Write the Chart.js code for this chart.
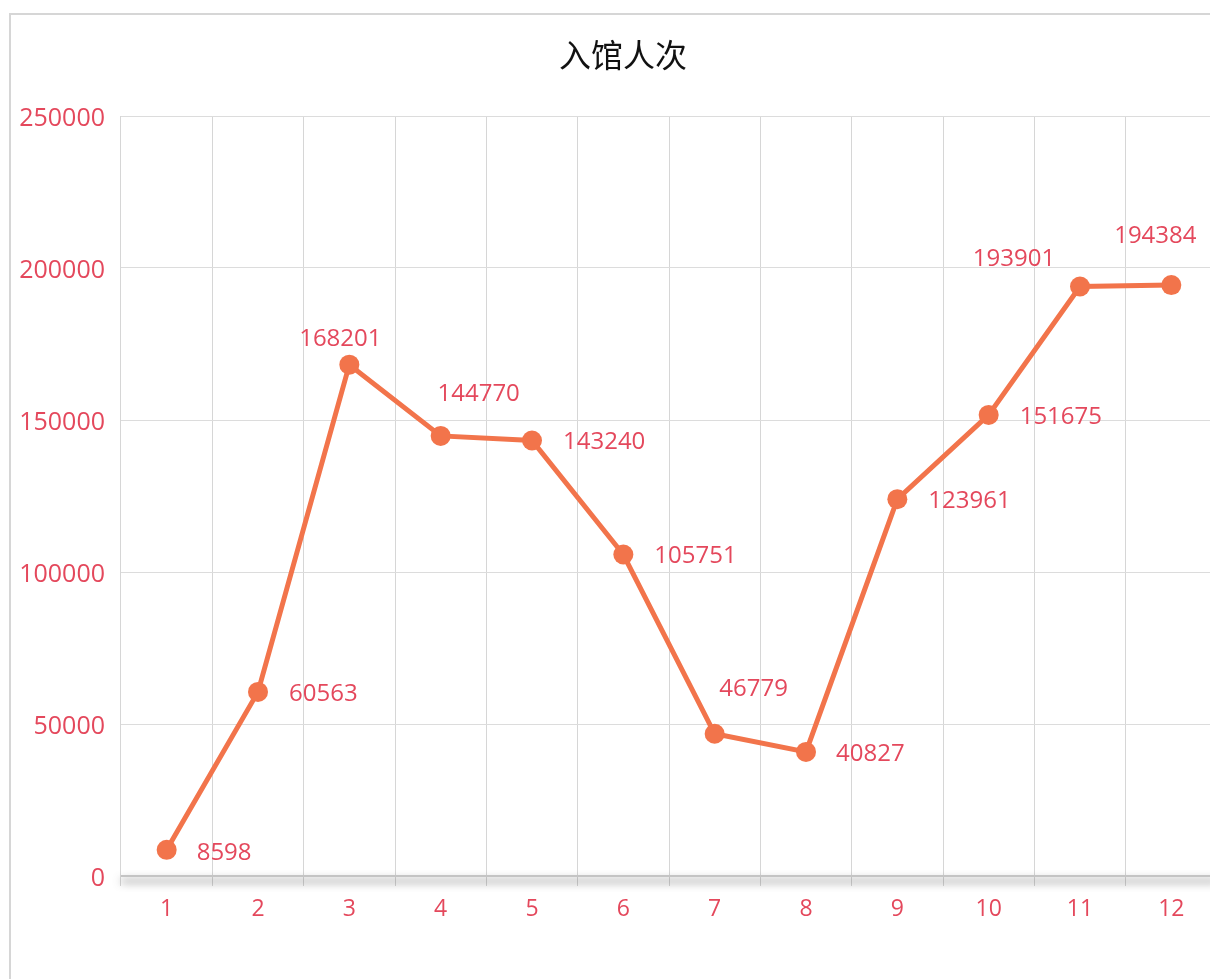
<!DOCTYPE html>
<html>
<head>
<meta charset="utf-8">
<title>入馆人次</title>
<script src="https://cdn.jsdelivr.net/npm/chart.js@4.4.1/dist/chart.umd.min.js"></script>
<style>
  html, body { margin: 0; padding: 0; background: #fff; overflow: hidden; }
  #box {
    position: absolute; left: 9px; top: 13px;
    width: 1240px; height: 1000px;
    border: 2px solid #d6d6d6;
    background: #fff;
  }
  #chart { display: block; }
</style>
</head>
<body>
<div id="box"><canvas id="chart" width="1240" height="1000"></canvas></div>
<script>
  'use strict';

  var months = ['1', '2', '3', '4', '5', '6', '7', '8', '9', '10', '11', '12'];
  var visits = [8598, 60563, 168201, 144770, 143240, 105751, 46779, 40827, 123961, 151675, 193901, 194384];
  var yTicks = [0, 50000, 100000, 150000, 200000, 250000];
  var titleText = '入馆人次';

  // where each value label sits relative to its point
  var labelAlign = ['left', 'left', 'center', 'center', 'left', 'left', 'center', 'left', 'left', 'left', 'center', 'center'];
  var labelDx = [30, 31, -9, 38, 31, 31, 39, 30, 31, 31, -66, -16];
  var labelDy = [3, 2, -26, -42, 2, 2, -45, 2, 2, 2, -27, -49];

  var RED = '#e4485c';
  var LINE = '#f2744b';
  var NUM_FONT = '"Open Sans", "Noto Sans", sans-serif';
  var CJK_FONT = '"Noto Sans CJK SC", sans-serif';

  var axisShadow = {
    id: 'axisShadow',
    beforeDatasetsDraw: function (chart) {
      var ctx = chart.ctx, a = chart.chartArea;
      ctx.save();
      ctx.strokeStyle = '#c4c4c4';
      ctx.lineWidth = 2;
      ctx.shadowColor = 'rgba(0,0,0,0.7)';
      ctx.shadowBlur = 9;
      ctx.shadowOffsetY = 5;
      ctx.beginPath();
      ctx.moveTo(a.left, a.bottom);
      ctx.lineTo(a.right, a.bottom);
      ctx.stroke();
      ctx.restore();
    }
  };

  var valueLabels = {
    id: 'valueLabels',
    afterDatasetsDraw: function (chart) {
      var ctx = chart.ctx;
      var pts = chart.getDatasetMeta(0).data;
      ctx.save();
      ctx.fillStyle = RED;
      ctx.font = '24px ' + NUM_FONT;
      ctx.textBaseline = 'middle';
      pts.forEach(function (p, i) {
        ctx.textAlign = labelAlign[i];
        ctx.fillText(String(visits[i]), p.x + labelDx[i], p.y + labelDy[i]);
      });
      ctx.restore();
    }
  };

  // title centred on the visible panel rather than the whole canvas
  var panelTitle = {
    id: 'panelTitle',
    afterDraw: function (chart) {
      var ctx = chart.ctx;
      ctx.save();
      ctx.fillStyle = '#111';
      ctx.font = '32px ' + CJK_FONT;
      ctx.textAlign = 'center';
      ctx.textBaseline = 'middle';
      ctx.fillText(titleText, 612, 40);
      ctx.restore();
    }
  };

  new Chart(document.getElementById('chart'), {
    type: 'line',
    data: {
      labels: months,
      datasets: [{
        label: titleText,
        data: visits,
        borderColor: LINE,
        backgroundColor: LINE,
        borderWidth: 5,
        pointRadius: 10,
        pointHoverRadius: 10,
        pointBorderWidth: 0,
        tension: 0
      }]
    },
    options: {
      responsive: false,
      animation: false,
      layout: { padding: { left: 0, right: 34, top: 101, bottom: 79 } },
      plugins: {
        legend: { display: false },
        tooltip: { enabled: false },
        title: { display: false }
      },
      scales: {
        x: {
          offset: true,
          grid: { offset: true, color: '#d6d6d6', lineWidth: 1, tickLength: 10, drawTicks: true },
          border: { display: false },
          ticks: { color: RED, font: { family: NUM_FONT, size: 23 }, padding: 10, maxRotation: 0 },
          afterFit: function (s) { s.height = 60; }
        },
        y: {
          min: 0,
          max: 250000,
          afterBuildTicks: function (s) { s.ticks = yTicks.map(function (v) { return { value: v }; }); },
          grid: { color: '#dcdcdc', lineWidth: 1, drawTicks: false },
          border: { display: false },
          ticks: {
            color: RED,
            font: { family: NUM_FONT, size: 25 },
            padding: 16,
            labelOffset: 3,
            callback: function (v) { return String(v); }
          },
          afterFit: function (s) { s.width = 110; }
        }
      }
    },
    plugins: [axisShadow, valueLabels, panelTitle]
  });
</script>
</body>
</html>
